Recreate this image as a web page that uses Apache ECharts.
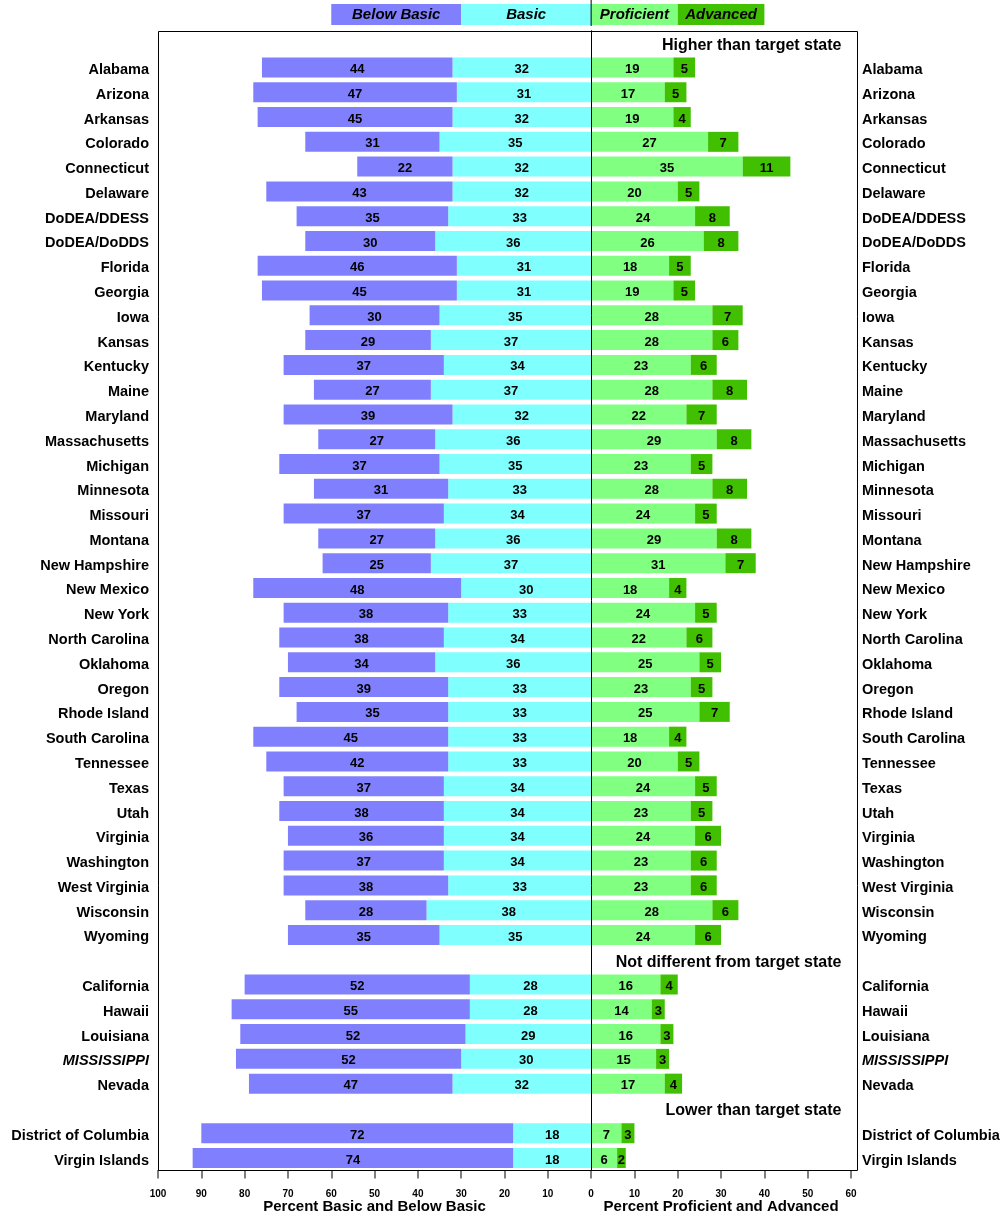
<!DOCTYPE html>
<html><head><meta charset="utf-8">
<script src="https://cdn.jsdelivr.net/npm/echarts@6/dist/echarts.min.js"></script>
<style>html,body{margin:0;padding:0;background:#fff}#c{width:1004px;height:1218px}</style>
</head><body><div id="c"></div>
<script>
// ---- DATA ----
const groupTitles = ['Higher than target state', 'Not different from target state', 'Lower than target state'];
const groupSizes = [36, 5, 2];
const states = ['Alabama','Arizona','Arkansas','Colorado','Connecticut','Delaware','DoDEA/DDESS','DoDEA/DoDDS','Florida','Georgia','Iowa','Kansas','Kentucky','Maine','Maryland','Massachusetts','Michigan','Minnesota','Missouri','Montana','New Hampshire','New Mexico','New York','North Carolina','Oklahoma','Oregon','Rhode Island','South Carolina','Tennessee','Texas','Utah','Virginia','Washington','West Virginia','Wisconsin','Wyoming',
  'California','Hawaii','Louisiana','MISSISSIPPI','Nevada',
  'District of Columbia','Virgin Islands'];
const belowBasic = [44,47,45,31,22,43,35,30,46,45,30,29,37,27,39,27,37,31,37,27,25,48,38,38,34,39,35,45,42,37,38,36,37,38,28,35, 52,55,52,52,47, 72,74];
const basic      = [32,31,32,35,32,32,33,36,31,31,35,37,34,37,32,36,35,33,34,36,37,30,33,34,36,33,33,33,33,34,34,34,34,33,38,35, 28,28,29,30,32, 18,18];
const proficient = [19,17,19,27,35,20,24,26,18,19,28,28,23,28,22,29,23,28,24,29,31,18,24,22,25,23,25,18,20,24,23,24,23,23,28,24, 16,14,16,15,17, 7,6];
const advanced   = [5,5,4,7,11,5,8,8,5,5,7,6,6,8,7,8,5,8,5,8,7,4,5,6,5,5,7,4,5,5,5,6,6,6,6,6, 4,3,3,3,4, 3,2];
const legendNames = ['Below Basic', 'Basic', 'Proficient', 'Advanced'];
const axisTitles = ['Percent Basic and Below Basic', 'Percent Proficient and Advanced'];

// ---- BUILD ----
const FONT = '"Liberation Sans", Arial, Helvetica, sans-serif';
const COLORS = ['#8080FF', '#80FFFF', '#80FF80', '#40C000'];
const cats = [], vBelow = [], vBasic = [], vProf = [], vAdv = [], headerPts = [];
let k = 0;
groupSizes.forEach((n, g) => {
  headerPts.push({ value: [57.8, cats.length], title: groupTitles[g] });
  cats.push('__h' + g); vBelow.push(null); vBasic.push(null); vProf.push(null); vAdv.push(null);
  for (let i = 0; i < n; i++, k++) {
    cats.push(states[k]);
    vBelow.push(-belowBasic[k]); vBasic.push(-basic[k]);
    vProf.push(proficient[k]); vAdv.push(advanced[k]);
  }
});

const GL = 158, GR = 851, XMIN = -100, XMAX = 60;
const px = v => GL + (v - XMIN) * (GR - GL) / (XMAX - XMIN);

const catLabel = (side) => ({
  fontFamily: FONT, fontWeight: 'bold', fontSize: 14.5, color: '#000',
  margin: side === 'left' ? 9 : 11,
  padding: [5, 0, 0, 0],
  formatter: v => v.startsWith('__h') ? '' : (v === 'MISSISSIPPI' ? '{it|' + v + '}' : v),
  rich: { it: { fontStyle: 'italic', fontFamily: FONT, fontWeight: 'bold', fontSize: 14.5, color: '#000' } }
});

const barLabel = {
  show: true, position: 'inside', color: '#000', fontFamily: FONT, fontWeight: 'bold', fontSize: 13,
  offset: [0, 2], formatter: p => Math.abs(p.value)
};
const mkBar = (name, data, color, extra) => Object.assign({
  name, type: 'bar', stack: 'all', data, barWidth: 20,
  itemStyle: { color }, label: barLabel, emphasis: { disabled: true }
}, extra || {});

const legendGraphics = [];
const legBounds = [[-60, -30], [-30, 0], [0, 20], [20, 40]];
legBounds.forEach((b, i) => {
  legendGraphics.push({ type: 'rect', shape: { x: px(b[0]), y: 4, width: px(b[1]) - px(b[0]), height: 21 }, style: { fill: COLORS[i] } });
  legendGraphics.push({ type: 'text', x: (px(b[0]) + px(b[1])) / 2, y: 14.5,
    style: { text: legendNames[i], fill: '#000', font: 'italic bold 15px ' + FONT, textAlign: 'center', textVerticalAlign: 'middle' } });
});
legendGraphics.push({ type: 'line', shape: { x1: px(0), y1: 0, x2: px(0), y2: 26 }, style: { stroke: '#000', lineWidth: 1 } });

const chart = echarts.init(document.getElementById('c'), null, { renderer: 'canvas' });
chart.setOption({
  animation: false,
  backgroundColor: '#fff',
  grid: { left: GL, right: 1004 - GR, top: 30.3, bottom: 47.6, containLabel: false },
  xAxis: {
    type: 'value', min: XMIN, max: XMAX, interval: 10,
    splitLine: { show: false },
    axisLine: { show: true, lineStyle: { color: '#000', width: 1 } },
    axisTick: { show: true, length: 8, lineStyle: { color: '#555', width: 1.5 } },
    axisLabel: { fontFamily: FONT, fontWeight: 'bold', fontSize: 10, color: '#000', margin: 19, formatter: v => Math.abs(v) }
  },
  yAxis: [
    { type: 'category', data: cats, inverse: true, position: 'left',
      axisLine: { show: false }, axisTick: { show: false }, splitLine: { show: false }, axisLabel: catLabel('left') },
    { type: 'category', data: cats, inverse: true, position: 'right',
      axisLine: { show: false }, axisTick: { show: false }, splitLine: { show: false }, axisLabel: catLabel('right') }
  ],
  series: [
    mkBar('Basic', vBasic, COLORS[1], {
      markLine: { silent: true, symbol: 'none', label: { show: false },
        lineStyle: { color: '#000', width: 1, type: 'solid' }, data: [{ xAxis: 0 }] }
    }),
    mkBar('Below Basic', vBelow, COLORS[0]),
    mkBar('Proficient', vProf, COLORS[2]),
    mkBar('Advanced', vAdv, COLORS[3]),
    { type: 'custom', data: headerPts, silent: true,
      renderItem: (params, api) => {
        const p = api.coord([api.value(0), api.value(1)]);
        return { type: 'text', x: p[0], y: p[1] + 2.5,
          style: { text: headerPts[params.dataIndex].title, fill: '#000', font: 'bold 16px ' + FONT,
            textAlign: 'right', textVerticalAlign: 'middle' } };
      } }
  ],
  graphic: legendGraphics.concat([
    { type: 'rect', shape: { x: 158.5, y: 31.5, width: 699, height: 1139 }, style: { fill: 'none', stroke: '#000', lineWidth: 1 }, z: 100 },
    { type: 'text', x: px(-50), y: 1207, style: { text: axisTitles[0], fill: '#000', font: 'bold 15px ' + FONT, textAlign: 'center', textVerticalAlign: 'middle' } },
    { type: 'text', x: px(30), y: 1207, style: { text: axisTitles[1], fill: '#000', font: 'bold 15px ' + FONT, textAlign: 'center', textVerticalAlign: 'middle' } }
  ])
});
</script></body></html>
